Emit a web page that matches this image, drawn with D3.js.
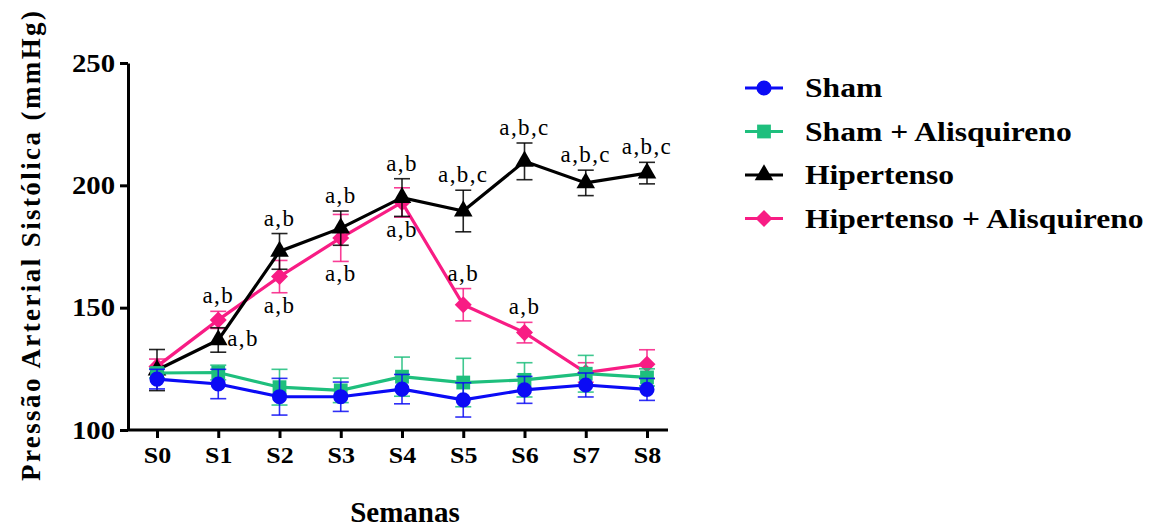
<!DOCTYPE html>
<html lang="pt">

<head>
    <title></title>
    <meta charset="UTF-8">
    <script src="https://cdn.jsdelivr.net/npm/d3@7"></script>
    <style>
        body {
            margin: 0;
            background: #fff;
        }
        svg text {
            font-family: "Liberation Serif", "Times New Roman", serif;
        }
    </style>
</head>

<body>
    <script>
        // semanas
        var weeks = ['S0', 'S1', 'S2', 'S3', 'S4', 'S5', 'S6', 'S7', 'S8'];
        var yTicks = [100, 150, 200, 250];

        // medias e erros (mmHg)
        var sham = [120.8, 118.8, 113.6, 113.6, 116.7, 112.3, 116.4, 118.4, 116.6];
        var shamErr = [4, 6, 7.5, 6, 6, 7, 5.5, 4.9, 4.5];
        var shamAli = [123.3, 123.5, 117.5, 116.2, 121.8, 119.4, 120.5, 123.0, 121.5];
        var shamAliErr = [2, 3, 7.3, 5, 8, 9.9, 7, 7.5, 3.5];
        var hip = [124.5, 136.8, 173, 182.5, 195, 189.5, 209.8, 201, 205];
        var hipErr = [8.4, 5, 7.3, 7, 7.7, 8.5, 7.5, 5.2, 4.4];
        var hipAli = [126, 145, 162.7, 178.5, 193, 151.2, 139.8, 123.5, 126.9];
        var hipAliErr = [3, 3.5, 6.6, 9.6, 6, 6.6, 4.2, 4, 5.9];

        var seriesNames = ['Sham', 'Sham + Alisquireno', 'Hipertenso', 'Hipertenso + Alisquireno'];

        // letras de significancia
        var annSeries = [3, 2, 2, 3, 2, 3, 2, 3, 2, 3, 2, 3, 2, 2];
        var annWeek = [1, 1, 2, 2, 3, 3, 4, 4, 5, 5, 6, 6, 7, 8];
        var annText = ['a,b', 'a,b', 'a,b', 'a,b', 'a,b', 'a,b', 'a,b', 'a,b', 'a,b,c', 'a,b', 'a,b,c', 'a,b', 'a,b,c', 'a,b,c'];
        var annPos = ['above', 'right', 'above', 'below', 'above', 'below', 'above', 'below', 'above', 'above', 'above', 'above', 'above', 'above'];

        var width = 1161,
            height = 528;
        var serif = '"Liberation Serif", "Times New Roman", serif';

        var colors = ['#0b0bf5', '#1ebf7d', '#000000', '#f81c84'];
        var symbols = [d3.symbolCircle, d3.symbolSquare, d3.symbolTriangle, d3.symbolSquare];
        var symSize = [180, 190, 150, 145];
        var symRot = [0, 0, 0, 45];

        var series = [
            { name: seriesNames[0], values: sham, err: shamErr },
            { name: seriesNames[1], values: shamAli, err: shamAliErr },
            { name: seriesNames[2], values: hip, err: hipErr },
            { name: seriesNames[3], values: hipAli, err: hipAliErr }
        ];

        // alarga o texto na horizontal (a figura original esta esticada)
        function stretch(sel, f) {
            sel.each(function() {
                var w = this.getComputedTextLength();
                d3.select(this).attr('textLength', w * f).attr('lengthAdjust', 'spacingAndGlyphs');
            });
        }

        var svg = d3.select('body').append('svg')
            .attr('width', width)
            .attr('height', height)
            .attr('font-family', serif);

        var x = d3.scalePoint()
            .domain(weeks)
            .range([157, 647]);
        var y = d3.scaleLinear()
            .domain([100, 250])
            .range([430, 63]);

        // eixo y
        var yAxis = d3.axisLeft(y).tickValues(yTicks).tickSize(8).tickSizeOuter(0).tickPadding(5);
        var gy = svg.append('g').attr('transform', 'translate(128,0)').call(yAxis)
            .attr('font-family', serif);
        gy.select('.domain').attr('stroke-width', 3);
        gy.selectAll('.tick line').attr('stroke-width', 3);
        gy.selectAll('.tick text')
            .style('font-family', serif)
            .style('font-weight', 'bold')
            .style('font-size', '25px')
            .attr('fill', '#000')
            .call(stretch, 1.15);

        // eixo x
        var xAxis = d3.axisBottom(x).tickSize(8).tickSizeOuter(0).tickPadding(8);
        var gx = svg.append('g').attr('transform', 'translate(0,430)').call(xAxis)
            .attr('font-family', serif);
        gx.select('.domain').remove();
        gx.append('line')
            .attr('x1', 127).attr('x2', 668)
            .attr('stroke', '#000').attr('stroke-width', 3);
        gx.selectAll('.tick line').attr('stroke-width', 3);
        gx.selectAll('.tick text')
            .style('font-family', serif)
            .style('font-weight', 'bold')
            .style('font-size', '24px')
            .attr('fill', '#000')
            .call(stretch, 1.08);

        // titulos dos eixos
        svg.append('text')
            .attr('transform', 'translate(40,246) rotate(-90)')
            .attr('text-anchor', 'middle')
            .style('font-family', serif)
            .style('font-weight', 'bold')
            .style('font-size', '27px')
            .attr('textLength', 470)
            .attr('lengthAdjust', 'spacing')
            .text('Pressão Arterial Sistólica (mmHg)');

        svg.append('text')
            .attr('x', (x('S0') + x('S8')) / 2 + 3)
            .attr('y', 522)
            .attr('text-anchor', 'middle')
            .style('font-family', serif)
            .style('font-weight', 'bold')
            .style('font-size', '29px')
            .text('Semanas');

        var line = d3.line()
            .x(function(d, i) { return x(weeks[i]); })
            .y(function(d) { return y(d); });

        // ordem de desenho: rosa, preto, verde, azul
        [3, 2, 1, 0].forEach(function(k) {
            var s = series[k];
            var g = svg.append('g').attr('class', 'serie');
            var eb = g.append('g');
            s.values.forEach(function(v, i) {
                var cx = x(weeks[i]);
                var y0 = y(v - s.err[i]),
                    y1 = y(v + s.err[i]);
                eb.append('line').attr('x1', cx).attr('x2', cx).attr('y1', y0).attr('y2', y1);
                eb.append('line').attr('x1', cx - 8).attr('x2', cx + 8).attr('y1', y0).attr('y2', y0);
                eb.append('line').attr('x1', cx - 8).attr('x2', cx + 8).attr('y1', y1).attr('y2', y1);
            });
            eb.selectAll('line').attr('stroke', colors[k]).attr('stroke-width', 1.6).attr('opacity', 0.85);

            g.append('path')
                .datum(s.values)
                .attr('d', line)
                .attr('fill', 'none')
                .attr('stroke', colors[k])
                .attr('stroke-width', 3.2);

            g.selectAll('path.pt')
                .data(s.values)
                .enter()
                .append('path')
                .attr('class', 'pt')
                .attr('d', d3.symbol().type(symbols[k]).size(symSize[k]))
                .attr('transform', function(d, i) {
                    return 'translate(' + x(weeks[i]) + ',' + y(d) + ') rotate(' + symRot[k] + ')';
                })
                .attr('fill', colors[k]);
        });

        // letras
        annText.forEach(function(t, j) {
            var s = series[annSeries[j]];
            var i = annWeek[j];
            var v = s.values[i],
                e = s.err[i];
            var tx = x(weeks[i]),
                ty, anchor = 'middle';
            if (annPos[j] == 'above') {
                ty = y(v + e) - 8;
            } else if (annPos[j] == 'below') {
                ty = y(v - e) + 20;
            } else {
                tx = tx + 9;
                ty = y(v) + 6;
                anchor = 'start';
            }
            svg.append('text')
                .attr('x', tx)
                .attr('y', ty)
                .attr('text-anchor', anchor)
                .style('font-family', serif)
                .style('font-size', '23px')
                .style('letter-spacing', '1.4px')
                .text(t);
        });

        // legenda
        var legend = svg.append('g').attr('transform', 'translate(745,88)');
        seriesNames.forEach(function(n, k) {
            var row = legend.append('g').attr('transform', 'translate(0,' + (k * 43.5) + ')');
            row.append('line')
                .attr('x1', 0).attr('x2', 38)
                .attr('stroke', colors[k]).attr('stroke-width', 3.2);
            row.append('path')
                .attr('d', d3.symbol().type(symbols[k]).size(symSize[k]))
                .attr('transform', 'translate(19,0) rotate(' + symRot[k] + ')')
                .attr('fill', colors[k]);
            row.append('text')
                .attr('x', 60)
                .attr('y', 9)
                .style('font-family', serif)
                .style('font-weight', 'bold')
                .style('font-size', '27px')
                .text(n)
                .call(stretch, 1.17);
        });
    </script>
</body>

</html>
